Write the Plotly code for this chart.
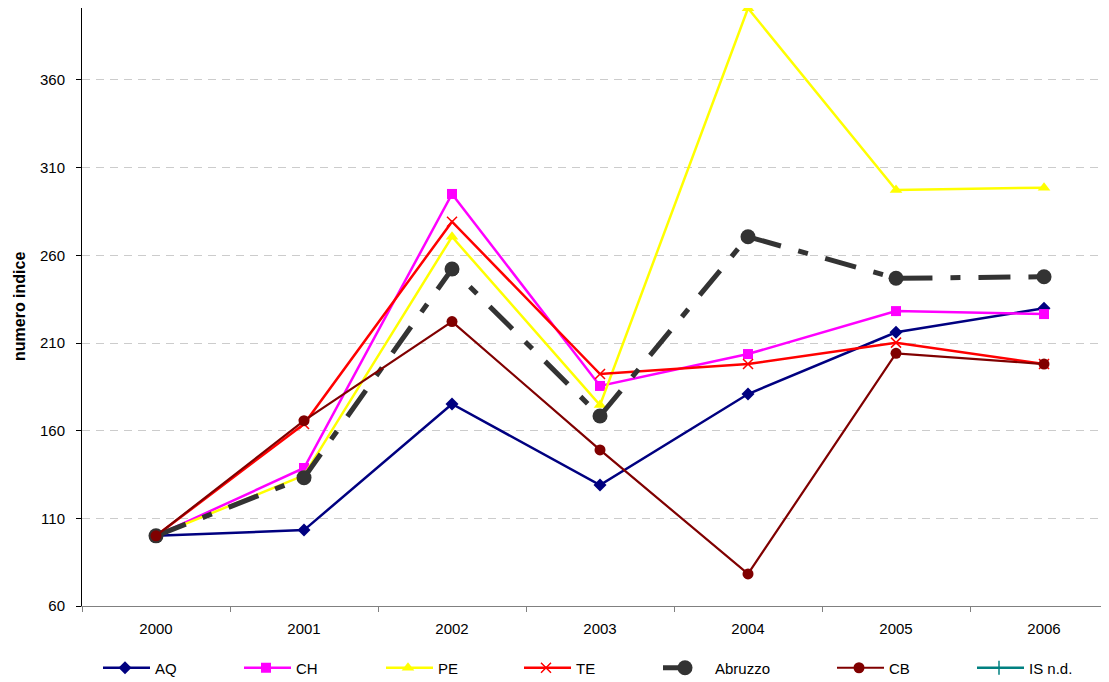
import plotly.graph_objects as go

years = ["2000", "2001", "2002", "2003", "2004", "2005", "2006"]
aq = [100, 103.3, 175.2, 129.0, 180.9, 216.1, 229.8]
ch = [100, 138.7, 295.0, 185.5, 203.7, 228.2, 226.5]
pe = [100, 134.5, 270.6, 174.6, 400.9, 297.3, 298.6]
te = [100, 163.8, 279.2, 192.3, 198.0, 210.2, 198.0]
abruzzo = [100, 133.2, 252.2, 168.4, 270.6, 246.9, 247.8]
cb = [100, 165.7, 222.2, 149.0, 78.3, 204.1, 198.0]
is_nd = [None, None, None, None, None, None, None]

y_ticks = [60, 110, 160, 210, 260, 310, 360]

FONT = "Liberation Sans, Arial, sans-serif"

series = [
    ("AQ", aq, "#000080", 2.5, "solid", "diamond", 10, None),
    ("CH", ch, "#FF00FF", 2.5, "solid", "square", 10, None),
    ("PE", pe, "#FFFF00", 2.5, "solid", "triangle-up", 11, None),
    ("TE", te, "#FF0000", 2.5, "solid", "x-thin", 10, 1.5),
    ("Abruzzo", abruzzo, "#333333", 5, "32px,18px,10px,18px", "circle", 15, None),
    ("CB", cb, "#800000", 2.2, "solid", "circle", 11, None),
    ("IS n.d.", is_nd, "#008080", 2.5, "solid", "cross-thin", 10, 1.5),
]

# screen x of each legend symbol start
legend_x = [103, 244, 386, 524, 663, 837, 977]

PLOT_L, PLOT_W, PLOT_H = 82, 1027, 598

fig = go.Figure()
layout_legends = {}
for i, (name, vals, color, lw, dash, sym, msize, mlw) in enumerate(series):
    lname = "legend" if i == 0 else f"legend{i+1}"
    marker = dict(symbol=sym, size=msize, color=color)
    if mlw:
        marker["line"] = dict(color=color, width=mlw)
    fig.add_trace(go.Scatter(
        x=years, y=vals, name=name, mode="lines+markers",
        line=dict(color=color, width=lw, dash=dash),
        marker=marker, legend=lname, showlegend=True,
    ))
    layout_legends[lname] = dict(
        x=(legend_x[i] - PLOT_L) / PLOT_W, xref="paper", xanchor="left",
        y=-62 / PLOT_H, yref="paper", yanchor="middle",
        orientation="h", itemwidth=50, bgcolor="rgba(0,0,0,0)",
        font=dict(family=FONT, size=15, color="black"),
        tracegroupgap=0, indentation=-8,
    )

fig.update_layout(
    width=1101, height=674,
    margin=dict(l=74, r=0, t=0, b=76, autoexpand=False),
    paper_bgcolor="white", plot_bgcolor="white",
    font=dict(family=FONT, size=15, color="black"),
    annotations=[dict(
        text="<b>numero indice</b>", textangle=-90,
        xref="paper", x=-63 / PLOT_W, xanchor="center",
        yref="paper", y=0.5, yanchor="middle",
        showarrow=False, font=dict(family=FONT, size=16, color="black"),
    )],
    **layout_legends,
)

fig.update_xaxes(
    type="category", categoryorder="array", categoryarray=years,
    range=[-0.5, 6.439], tickson="boundaries", automargin=False,
    ticks="outside", ticklen=5, tickcolor="#808080",
    showline=True, linecolor="#808080", linewidth=1,
    showgrid=False, zeroline=False, ticklabelstandoff=9,
    tickfont=dict(family=FONT, size=15, color="black"),
)
fig.update_yaxes(
    range=[60, 401.06], tickmode="array", tickvals=y_ticks, automargin=False,
    ticks="outside", ticklen=5, tickcolor="black",
    showline=True, linecolor="black", linewidth=1,
    showgrid=True, gridcolor="#CCCCCC", griddash="8px,6px", gridwidth=1,
    zeroline=False, ticklabelstandoff=8,
    tickfont=dict(family=FONT, size=15, color="black"),
)

fig.write_html("out.html")
